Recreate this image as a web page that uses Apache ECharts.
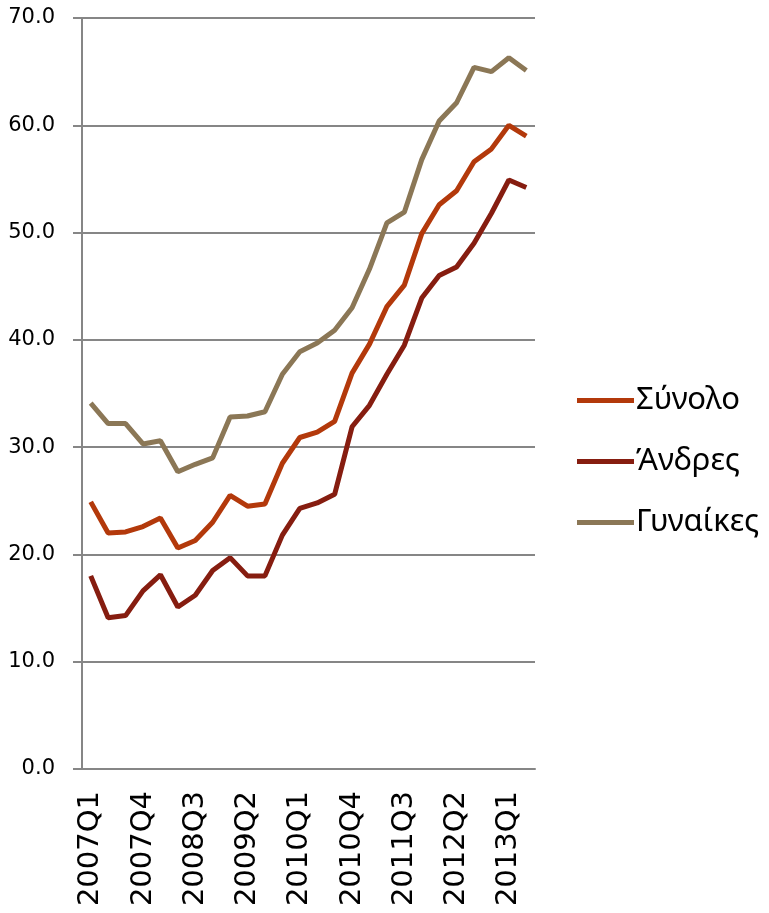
<!DOCTYPE html>
<html>
<head>
    <meta charset="utf-8">
    <title>ECharts</title>
    <script src="https://cdn.jsdelivr.net/npm/echarts@6/dist/echarts.min.js"></script>
</head>
<body style="margin:0">
    <div id="main" style="width: 769px;height:913px;"></div>
    <script type="text/javascript">
        // quarters 2007Q1 .. 2013Q2
        var quarters = ['2007Q1','2007Q2','2007Q3','2007Q4','2008Q1','2008Q2','2008Q3','2008Q4',
            '2009Q1','2009Q2','2009Q3','2009Q4','2010Q1','2010Q2','2010Q3','2010Q4',
            '2011Q1','2011Q2','2011Q3','2011Q4','2012Q1','2012Q2','2012Q3','2012Q4',
            '2013Q1','2013Q2'];
        var synolo = [24.9, 22.0, 22.1, 22.6, 23.4, 20.6, 21.3, 23.0, 25.5, 24.5, 24.7, 28.5, 30.9,
            31.4, 32.4, 36.9, 39.6, 43.1, 45.1, 49.9, 52.6, 53.9, 56.6, 57.8, 60.0, 59.0];
        var andres = [18.0, 14.1, 14.3, 16.6, 18.1, 15.1, 16.2, 18.5, 19.7, 18.0, 18.0, 21.8, 24.3,
            24.8, 25.6, 31.9, 33.9, 36.8, 39.5, 43.9, 46.0, 46.8, 49.0, 51.8, 54.9, 54.2];
        var gynaikes = [34.1, 32.2, 32.2, 30.3, 30.6, 27.7, 28.4, 29.0, 32.8, 32.9, 33.3, 36.8, 38.9,
            39.7, 40.9, 43.0, 46.6, 50.9, 51.9, 56.8, 60.4, 62.1, 65.4, 65.0, 66.3, 65.1];

        var myChart = echarts.init(document.getElementById('main'));
        var axisGray = '#868686';

        function lineSeries(name, data, color) {
            return {
                name: name,
                type: 'line',
                data: data,
                symbol: 'none',
                lineStyle: { color: color, width: 5 },
                itemStyle: { color: color },
                animation: false
            };
        }

        var option = {
            animation: false,
            grid: { left: 82, right: 234, top: 18, bottom: 144 },
            legend: {
                orient: 'vertical',
                left: 572,
                top: 380,
                icon: 'rect',
                itemWidth: 57,
                itemHeight: 5,
                itemGap: 30,
                textStyle: { fontFamily: 'Noto Sans', fontSize: 31, lineHeight: 31, color: '#000', padding: [0, 0, 0, -3] },
                data: ['Σύνολο', 'Άνδρες', 'Γυναίκες']
            },
            xAxis: {
                type: 'category',
                data: quarters,
                boundaryGap: true,
                axisLine: { lineStyle: { color: axisGray, width: 2 } },
                axisTick: { interval: 0, length: 11, lineStyle: { color: axisGray, width: 2 } },
                axisLabel: {
                    interval: 2,
                    rotate: 90,
                    margin: 22,
                    fontFamily: 'DejaVu Sans',
                    fontSize: 29,
                    color: '#000'
                }
            },
            yAxis: {
                type: 'value',
                min: 0,
                max: 70,
                interval: 10,
                axisLine: { show: true, lineStyle: { color: axisGray, width: 2 } },
                axisTick: { show: true, length: 9, lineStyle: { color: axisGray, width: 2 } },
                splitLine: { lineStyle: { color: axisGray, width: 2 } },
                axisLabel: {
                    margin: 27,
                    fontFamily: 'DejaVu Sans',
                    fontSize: 21,
                    color: '#000',
                    formatter: function (v) { return v.toFixed(1); }
                }
            },
            series: [
                lineSeries('Σύνολο', synolo, '#B3390B'),
                lineSeries('Άνδρες', andres, '#861D10'),
                lineSeries('Γυναίκες', gynaikes, '#8B7756')
            ]
        };

        myChart.setOption(option);
    </script>
</body>
</html>
